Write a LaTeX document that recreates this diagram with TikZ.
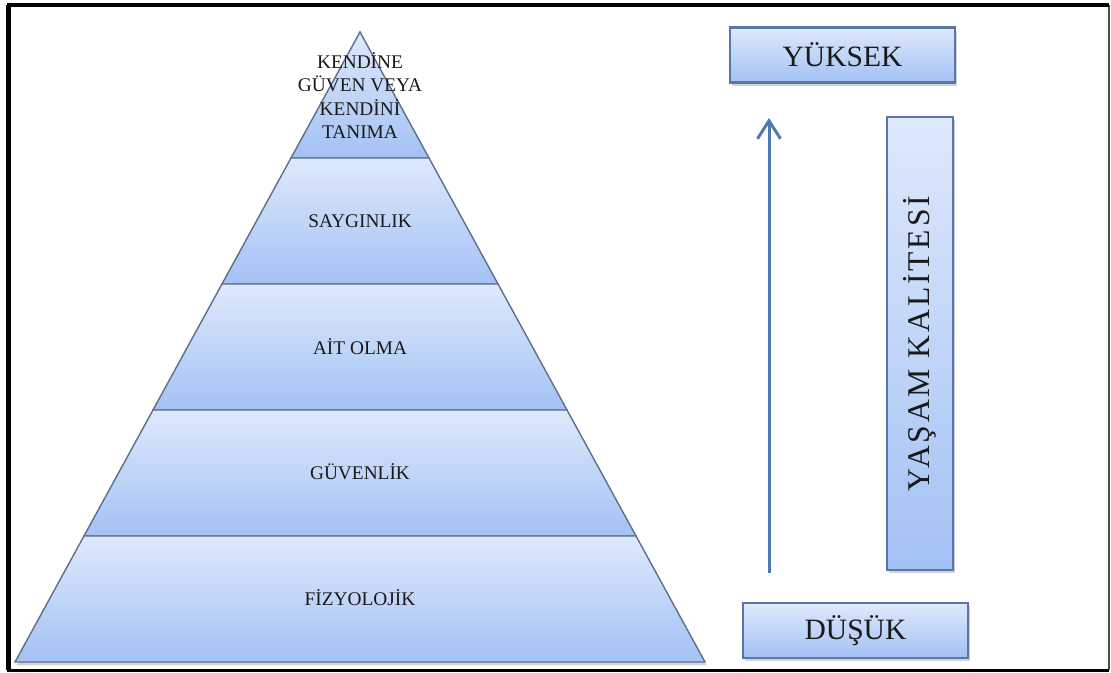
\documentclass[tikz,border=0pt]{standalone}
\usepackage{fontspec}
\setmainfont{Liberation Serif}
\usepackage{tikz}
\usetikzlibrary{arrows.meta,calc,shadows}
\definecolor{levelTop}{HTML}{DEE9FC}
\definecolor{levelBot}{HTML}{A3C1F4}
\definecolor{edgeGray}{HTML}{5E6F8B}
\definecolor{boxEdge}{HTML}{5877A6}
\definecolor{riseBlue}{HTML}{5079B0}
\tikzset{
	level/.style={draw=edgeGray, line width=0.8pt, top color=levelTop, bottom color=levelBot},
	levelText/.style={font=\fontsize{11}{13.2}\selectfont, text=black!90, align=center},
	valueBox/.style={draw=boxEdge, line width=1.3pt, top color=levelTop, bottom color=levelBot,
		drop shadow={opacity=0.35, shadow xshift=0.03cm, shadow yshift=-0.07cm},
		minimum width=4.5cm, minimum height=1.1cm, inner sep=0pt,
		font=\fontsize{16.8}{20}\selectfont, text=black!90},
	riseArrow/.style={draw=riseBlue, line width=1.7pt,
		-{Straight Barb[length=3.6mm, width=4.6mm, line width=1.7pt]}}
}
\begin{document}
\begin{tikzpicture}[>=latex]
	\useasboundingbox (0,0) rectangle (22.22,13.46);
	%\draw [help lines] (0,0) grid (22,13);
	\draw [line width=0.8pt, black!70] (22.18,0.05) -- (22.18,13.36);
	\draw [line width=2.2pt] (22.18,13.36) -- (0.17,13.36) -- (0.17,0.05) -- (22.18,0.05);
	\draw [line width=3pt] (0.17,0.05) -- (0.17,13.36);
	% pyramid
	\coordinate (apex) at (7.2,12.82);
	\coordinate (bl) at (0.3,0.22);
	\coordinate (br) at (14.1,0.22);
	\path [fill=white, drop shadow={opacity=0.35, shadow xshift=0.03cm, shadow yshift=-0.07cm}] (apex) -- (bl) -- (br) -- cycle;
	\foreach \a/\b in {0/0.2,0.2/0.4,0.4/0.6,0.6/0.8,0.8/1}
		\draw [level] ($(apex)!\a!(bl)$) -- ($(apex)!\b!(bl)$) -- ($(apex)!\b!(br)$) -- ($(apex)!\a!(br)$) -- cycle;
	\node [levelText] (selfText) at (7.2,11.55) {KENDİNE\\GÜVEN VEYA\\KENDİNİ\\TANIMA};
	\node [levelText] (esteemText) at (7.2,9.03) {SAYGINLIK};
	\node [levelText] (belongText) at (7.2,6.52) {AİT OLMA};
	\node [levelText] (safetyText) at (7.2,4.03) {GÜVENLİK};
	\node [levelText] (bodyText) at (7.2,1.5) {FİZYOLOJİK};
	% right side
	\node [valueBox] (high) at (16.85,12.36) {YÜKSEK};
	\node [valueBox] (low) at (17.11,0.85) {DÜŞÜK};
	\node [valueBox, minimum width=1.32cm, minimum height=9.06cm, font=\fontsize{18}{20}\selectfont]
		(quality) at (18.4,6.59) {\rotatebox{90}{\addfontfeatures{LetterSpace=9}YAŞAM KALİTESİ}};
	\coordinate (riseFoot) at (15.38,2.0);
	\coordinate (riseTip) at (15.38,11.1);
	\draw [riseArrow] (riseFoot) -- (riseTip);
\end{tikzpicture}
\end{document}
